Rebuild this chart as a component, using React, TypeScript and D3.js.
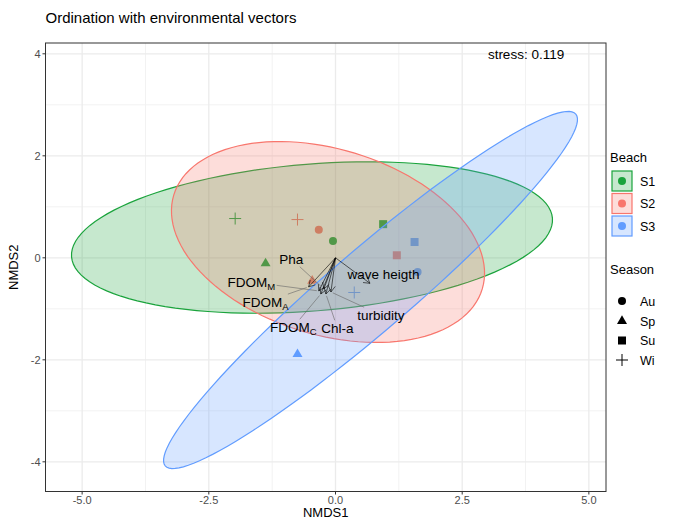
import React from "react";
import * as d3 from "d3";

// ---------- data ----------
const beaches = ["S1", "S2", "S3"];
const beachColors = ["#1AA33C", "#F8766D", "#619CFF"];
const seasons = ["Au", "Sp", "Su", "Wi"];

const siteBeach = ["S1", "S1", "S1", "S1", "S2", "S2", "S2", "S2", "S3", "S3", "S3", "S3"];
const siteSeason = ["Au", "Sp", "Su", "Wi", "Au", "Sp", "Su", "Wi", "Au", "Sp", "Su", "Wi"];
const siteNMDS1 = [-0.05, -1.38, 0.94, -1.98, -0.33, -0.46, 1.21, -0.75, 1.62, -0.75, 1.56, 0.37];
const siteNMDS2 = [0.33, -0.11, 0.66, 0.77, 0.55, -0.45, 0.05, 0.75, -0.28, -1.89, 0.31, -0.68];

// 95% ellipses per beach: centre, semi-axes, rotation (deg)
const ellCx = [-0.464, -0.148, 0.691];
const ellCy = [0.398, 0.31, -0.631];
const ellA = [4.76, 3.18, 5.32];
const ellB = [1.44, 1.82, 0.8];
const ellAngle = [4.57, -16.8, 40.4];

// environmental vectors
const vecMain = ["Pha", "FDOM", "FDOM", "FDOM", "Chl-a", "turbidity", "wave heigth"];
const vecSub = ["", "M", "A", "C", "", "", ""];
const vecNMDS1 = [-0.23, -0.33, -0.53, -0.29, -0.19, -0.09, 0.68];
const vecNMDS2 = [-0.61, -0.65, -0.57, -0.71, -0.71, -0.67, -0.5];

const xTicks = [-5, -2.5, 0, 2.5, 5];
const xTickLabels = ["-5.0", "-2.5", "0.0", "2.5", "5.0"];
const xMinor = [-3.75, -1.25, 1.25, 3.75];
const yTicks = [-4, -2, 0, 2, 4];
const yTickLabels = ["-4", "-2", "0", "2", "4"];
const yMinor = [-3, -1, 1, 3];

const titleText = "Ordination with environmental vectors";
const stressText = "stress: 0.119";
const stressPos = [3.76, 4];

// ---------- layout ----------
const W = 673;
const H = 521;
const P = { left: 45.5, right: 606, top: 43, bottom: 491.5 };
const X_DOMAIN: [number, number] = [-5.723, 5.338];
const Y_DOMAIN: [number, number] = [-4.582, 4.212];
const FONT = "'Liberation Sans', Arial, Helvetica, sans-serif";
// label offsets from arrow tip (px), like ggrepel placement
const LABEL_OFFSETS = [
  [-32.5, -30],
  [-67.5, -9],
  [-43, 15],
  [-27.5, 33],
  [11.5, 34],
  [50, 23],
  [13.5, -9.5],
];
const LABEL_SIZE = 13.5;
const SUB_SIZE = 9.5;

let _ctx: CanvasRenderingContext2D | null = null;
function measure(text: string, size: number): number {
  if (!_ctx) {
    const c = document.createElement("canvas");
    _ctx = c.getContext("2d");
  }
  if (!_ctx) return text.length * size * 0.55;
  _ctx.font = `${size}px 'Liberation Sans', Arial, sans-serif`;
  return _ctx.measureText(text).width;
}

function Marker({ shape, x, y, color }: { shape: string; x: number; y: number; color: string }) {
  if (shape === "Au") return <circle cx={x} cy={y} r={4} fill={color} />;
  if (shape === "Sp") {
    const s = 10;
    const h = (s * Math.sqrt(3)) / 2;
    const pts = [
      [x, y - (2 * h) / 3],
      [x - s / 2, y + h / 3],
      [x + s / 2, y + h / 3],
    ];
    return <polygon points={pts.map((p) => p.join(",")).join(" ")} fill={color} />;
  }
  if (shape === "Su") return <rect x={x - 4} y={y - 4} width={8} height={8} fill={color} />;
  return (
    <g stroke={color} strokeWidth={1}>
      <line x1={x - 6} x2={x + 6} y1={y} y2={y} />
      <line x1={x} x2={x} y1={y - 6} y2={y + 6} />
    </g>
  );
}

export default function App() {
  const x = d3.scaleLinear().domain(X_DOMAIN).range([P.left, P.right]);
  const y = d3.scaleLinear().domain(Y_DOMAIN).range([P.bottom, P.top]);
  const colorOf = d3.scaleOrdinal<string, string>().domain(beaches).range(beachColors);

  const line = d3
    .line<[number, number]>()
    .x((d) => x(d[0]))
    .y((d) => y(d[1]))
    .curve(d3.curveLinearClosed);

  const ellipses = beaches.map((b, i) => {
    const th = (ellAngle[i] * Math.PI) / 180;
    const pts: [number, number][] = d3.range(0, 120).map((k) => {
      const t = (k / 120) * 2 * Math.PI;
      const ex = ellA[i] * Math.cos(t);
      const ey = ellB[i] * Math.sin(t);
      return [ellCx[i] + ex * Math.cos(th) - ey * Math.sin(th), ellCy[i] + ex * Math.sin(th) + ey * Math.cos(th)];
    });
    return { b, d: line(pts) as string, color: colorOf(b) };
  });

  const ox = x(0);
  const oy = y(0);

  const arrows = vecMain.map((m, i) => {
    const ex = x(vecNMDS1[i]);
    const ey = y(vecNMDS2[i]);
    const ang = Math.atan2(ey - oy, ex - ox);
    const L = 7;
    const a = Math.PI / 6;
    const h1 = [ex - L * Math.cos(ang - a), ey - L * Math.sin(ang - a)];
    const h2 = [ex - L * Math.cos(ang + a), ey - L * Math.sin(ang + a)];
    // label
    const w = measure(m, LABEL_SIZE) + (vecSub[i] ? measure(vecSub[i], SUB_SIZE) : 0);
    const cx = ex + LABEL_OFFSETS[i][0];
    const cy = ey + LABEL_OFFSETS[i][1];
    const hw = w / 2 + 1.5;
    const hh = LABEL_SIZE / 2 + 1;
    // leader from bbox edge to tip
    const dx = ex - cx;
    const dy = ey - cy;
    let seg: number[] | null = null;
    if (Math.abs(dx) > hw || Math.abs(dy) > hh) {
      const s = Math.min(hw / Math.abs(dx || 1e-9), hh / Math.abs(dy || 1e-9));
      const sx = cx + dx * s;
      const sy = cy + dy * s;
      const len = Math.hypot(ex - sx, ey - sy);
      if (len > 5) {
        const k = (len - 2) / len;
        seg = [sx, sy, sx + (ex - sx) * k, sy + (ey - sy) * k];
      }
    }
    return { i, ex, ey, h1, h2, cx, cy, w, seg };
  });

  const beachRows = [181, 203.5, 226];
  const seasonRows = [301, 321, 340.5, 360];

  return (
    <svg width={W} height={H} style={{ display: "block", position: "absolute", left: 0, top: 0 }} fontFamily={FONT}>
      <rect width={W} height={H} fill="#fff" />
      {/* grid */}
      <g>
        {xMinor.map((v) => (
          <line key={"xm" + v} x1={x(v)} x2={x(v)} y1={P.top} y2={P.bottom} stroke="#F2F2F2" strokeWidth={1} />
        ))}
        {yMinor.map((v) => (
          <line key={"ym" + v} y1={y(v)} y2={y(v)} x1={P.left} x2={P.right} stroke="#F2F2F2" strokeWidth={1} />
        ))}
        {xTicks.map((v) => (
          <line key={"xg" + v} x1={x(v)} x2={x(v)} y1={P.top} y2={P.bottom} stroke="#EBEBEB" strokeWidth={1.3} />
        ))}
        {yTicks.map((v) => (
          <line key={"yg" + v} y1={y(v)} y2={y(v)} x1={P.left} x2={P.right} stroke="#EBEBEB" strokeWidth={1.3} />
        ))}
      </g>
      {/* points */}
      <g>
        {siteNMDS1.map((v, i) => (
          <Marker key={i} shape={siteSeason[i]} x={x(v)} y={y(siteNMDS2[i])} color={colorOf(siteBeach[i])} />
        ))}
      </g>
      {/* ellipses */}
      <g>
        {ellipses.map((e) => (
          <path key={e.b} d={e.d} fill={e.color} fillOpacity={0.25} stroke={e.color} strokeWidth={1.2} />
        ))}
      </g>
      {/* vectors */}
      <g stroke="#000" strokeWidth={0.6} fill="none">
        {arrows.map((a) => (
          <g key={a.i}>
            <line x1={ox} y1={oy} x2={a.ex} y2={a.ey} />
            <polyline points={`${a.h1[0]},${a.h1[1]} ${a.ex},${a.ey} ${a.h2[0]},${a.h2[1]}`} />
          </g>
        ))}
      </g>
      <g stroke="#666" strokeWidth={0.6}>
        {arrows.map((a) => (a.seg ? <line key={a.i} x1={a.seg[0]} y1={a.seg[1]} x2={a.seg[2]} y2={a.seg[3]} /> : null))}
      </g>
      <g fontSize={LABEL_SIZE} fill="#000">
        {arrows.map((a) => (
          <text key={a.i} x={a.cx - a.w / 2} y={a.cy + LABEL_SIZE * 0.36}>
            {vecMain[a.i]}
            {vecSub[a.i] ? (
              <tspan fontSize={SUB_SIZE} dy={3}>
                {vecSub[a.i]}
              </tspan>
            ) : null}
          </text>
        ))}
      </g>
      <text x={x(stressPos[0])} y={y(stressPos[1]) + 5} fontSize={13.5} textAnchor="middle" fill="#000">
        {stressText}
      </text>
      {/* border */}
      <rect x={P.left} y={P.top} width={P.right - P.left} height={P.bottom - P.top} fill="none" stroke="#333" strokeWidth={1} />
      {/* axes */}
      <g stroke="#333" strokeWidth={1}>
        {xTicks.map((v) => (
          <line key={"xt" + v} x1={x(v)} x2={x(v)} y1={P.bottom} y2={P.bottom + 3} />
        ))}
        {yTicks.map((v) => (
          <line key={"yt" + v} y1={y(v)} y2={y(v)} x1={P.left - 3} x2={P.left} />
        ))}
      </g>
      <g fontSize={11} fill="#4D4D4D">
        {xTicks.map((v, i) => (
          <text key={"xl" + v} x={x(v)} y={P.bottom + 12} textAnchor="middle">
            {xTickLabels[i]}
          </text>
        ))}
        {yTicks.map((v, i) => (
          <text key={"yl" + v} x={P.left - 5} y={y(v) + 4} textAnchor="end">
            {yTickLabels[i]}
          </text>
        ))}
      </g>
      <text x={(P.left + P.right) / 2} y={517} fontSize={13} textAnchor="middle" fill="#000">
        NMDS1
      </text>
      <text
        transform={`translate(${18},${(P.top + P.bottom) / 2}) rotate(-90)`}
        fontSize={13}
        textAnchor="middle"
        fill="#000"
      >
        NMDS2
      </text>
      <text x={P.left} y={23} fontSize={15} fill="#000">
        {titleText}
      </text>
      {/* legends */}
      <g fontSize={12.5} fill="#000">
        <text x={610} y={162} fontSize={13}>
          Beach
        </text>
        {beaches.map((b, i) => (
          <g key={b}>
            <rect x={612} y={beachRows[i] - 10} width={20} height={20} fill={colorOf(b)} fillOpacity={0.25} stroke={colorOf(b)} strokeWidth={1.2} />
            <circle cx={622} cy={beachRows[i]} r={4} fill={colorOf(b)} />
            <text x={640} y={beachRows[i] + 4.5}>
              {b}
            </text>
          </g>
        ))}
        <text x={610} y={274} fontSize={13}>
          Season
        </text>
        {seasons.map((s, i) => (
          <g key={s}>
            <Marker shape={s} x={622} y={seasonRows[i]} color="#000" />
            <text x={640} y={seasonRows[i] + 4.5}>
              {s}
            </text>
          </g>
        ))}
      </g>
    </svg>
  );
}
